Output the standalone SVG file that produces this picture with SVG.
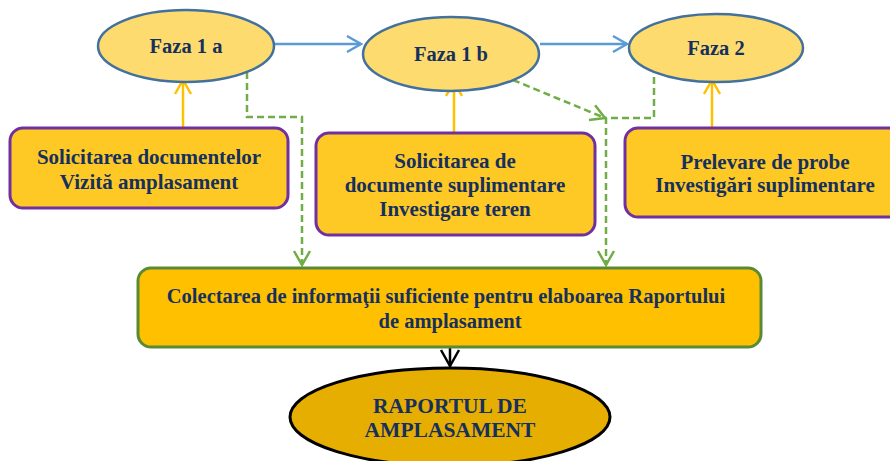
<svg xmlns="http://www.w3.org/2000/svg" width="890" height="461" viewBox="0 0 890 461">
<defs>
<style>
text{font-family:"Liberation Serif","Times New Roman",serif;font-weight:bold;fill:#16305e;text-anchor:middle;font-size:21px}
.phase{fill:#fedb6e;stroke:#41719c;stroke-width:2.5}
.task{fill:#fec925;stroke:#7030a0;stroke-width:3}
.blue{stroke:#5b9bd5;stroke-width:2.5;fill:none}
.yel{stroke:#ffc000;stroke-width:2.5;fill:none}
.grn{stroke:#70ad47;stroke-width:2.5;fill:none;stroke-dasharray:7 4}
.blk{stroke:#000;stroke-width:2.5;fill:none}
</style>
<marker id="ab" markerWidth="20" markerHeight="20" refX="16" refY="10" orient="auto" markerUnits="userSpaceOnUse"><path d="M2,2 L16,10 L2,18" fill="none" stroke="#5b9bd5" stroke-width="2.5"/></marker>
<marker id="ay" markerWidth="20" markerHeight="20" refX="16" refY="10" orient="auto" markerUnits="userSpaceOnUse"><path d="M2,2 L16,10 L2,18" fill="none" stroke="#ffc000" stroke-width="2.5"/></marker>
<marker id="ag" markerWidth="20" markerHeight="20" refX="16" refY="10" orient="auto" markerUnits="userSpaceOnUse"><path d="M2,2 L16,10 L2,18" fill="none" stroke="#70ad47" stroke-width="2.5"/></marker>
<marker id="ak" markerWidth="22" markerHeight="22" refX="18" refY="11" orient="auto" markerUnits="userSpaceOnUse"><path d="M2,2 L18,11 L2,20" fill="none" stroke="#000" stroke-width="2.5"/></marker>
</defs>

<g id="connectors">
<line class="blue" x1="274" y1="44" x2="361" y2="44" marker-end="url(#ab)"/>
<line class="blue" x1="540" y1="44" x2="627" y2="44" marker-end="url(#ab)"/>
<line class="yel" x1="183" y1="130" x2="183" y2="80" marker-end="url(#ay)"/>
<line class="yel" x1="454" y1="135" x2="454" y2="82" marker-end="url(#ay)"/>
<line class="yel" x1="712" y1="130" x2="712" y2="80" marker-end="url(#ay)"/>
<polyline class="grn" points="247,72 247,117 302,117 302,265" marker-end="url(#ag)"/>
<line class="grn" x1="513" y1="80" x2="605" y2="118" marker-end="url(#ag)"/>
<polyline class="grn" points="654,66 654,118 606,118 606,265" marker-end="url(#ag)"/>
<line class="blk" x1="450" y1="347" x2="450" y2="366" marker-end="url(#ak)"/>
</g>

<g id="faza1a"><ellipse class="phase" cx="186" cy="46" rx="88" ry="36"/><text x="186" y="53" style="font-size:20.5px">Faza 1 a</text></g>
<g id="faza1b"><ellipse class="phase" cx="451" cy="54" rx="88" ry="37"/><text x="451" y="61" style="font-size:20.5px">Faza 1 b</text></g>
<g id="faza2"><ellipse class="phase" cx="716" cy="48" rx="87" ry="34"/><text x="716" y="55" style="font-size:20.5px">Faza 2</text></g>

<g id="task1"><rect class="task" x="10" y="128" width="278" height="80" rx="13"/><text x="149" y="164">Solicitarea documentelor</text><text x="149" y="189">Vizită amplasament</text></g>
<g id="task2"><rect class="task" x="316" y="133" width="279" height="102" rx="13"/><text x="455" y="168">Solicitarea de</text><text x="455" y="192">documente suplimentare</text><text x="455" y="216">Investigare teren</text></g>
<g id="task3"><rect class="task" x="625" y="128" width="280" height="89" rx="13"/><text x="765" y="169">Prelevare de probe</text><text x="765" y="192">Investigări suplimentare</text></g>

<g id="collect"><rect x="138" y="268" width="623" height="79" rx="13" fill="#ffc000" stroke="#5b8a36" stroke-width="3"/><text x="446" y="303" style="font-size:20.5px">Colectarea de informaţii suficiente pentru elaboarea Raportului</text><text x="450" y="328" style="font-size:20.5px">de amplasament</text></g>

<g id="report"><ellipse cx="450" cy="417" rx="160" ry="49" fill="#e6ae00" stroke="#000" stroke-width="3"/><text x="450" y="413" style="font-size:21.5px">RAPORTUL DE</text><text x="450" y="437" style="font-size:21.5px">AMPLASAMENT</text></g>
</svg>
